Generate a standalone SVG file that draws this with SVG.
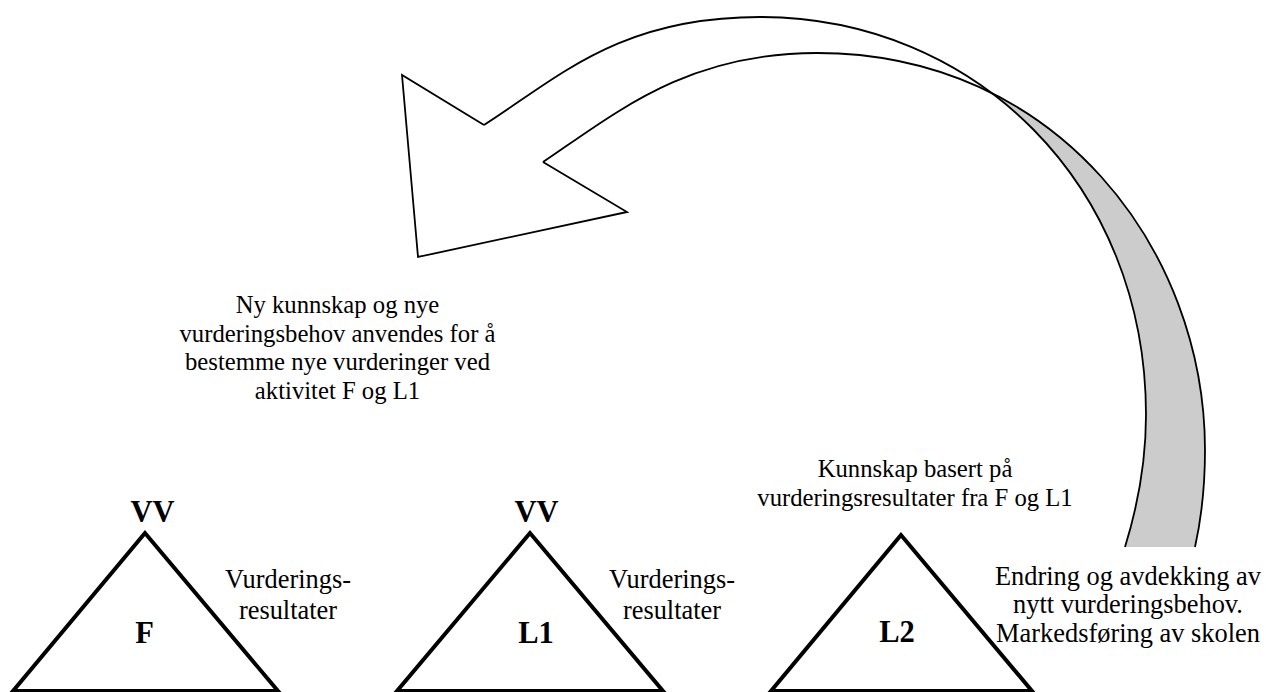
<svg xmlns="http://www.w3.org/2000/svg" width="1266" height="692" viewBox="0 0 1266 692">
  <style>
    .tri { fill: none; stroke: #000; stroke-width: 4; stroke-linejoin: miter; }
    .lbl { font-family: "Liberation Serif", "Times New Roman", serif; font-weight: bold; font-size: 30.5px; fill: #000; text-anchor: middle; }
    .note { font-family: "Liberation Serif", "Times New Roman", serif; font-size: 24.7px; fill: #000; text-anchor: middle; }
    .note-l { font-family: "Liberation Serif", "Times New Roman", serif; font-size: 26.4px; fill: #000; text-anchor: middle; }
    .edge { fill: none; stroke: #000; stroke-width: 1.8; stroke-linejoin: miter; }
  </style>
  <defs>
    <clipPath id="backside">
      <rect x="990" y="0" width="276" height="692"/>
    </clipPath>
  </defs>
  <rect width="1266" height="692" fill="#fff"/>

  <!-- curved feedback arrow from L2 back to F and L1 -->
  <g id="connectors">
    <path clip-path="url(#backside)" fill="#cccccc" stroke="none"
          d="M484,125 C559.6,76.4 620,17 760,17 C975,17 1146,185 1146,415 C1146,460 1138,505 1125,547 L1195,547 C1201,520 1205,485 1205,450 C1205,250 1057,53 817,53 C687,53 617.7,111.6 543,162 Z"/>
    <path class="edge" d="M484,125 C559.6,76.4 620,17 760,17 C975,17 1146,185 1146,415 C1146,460 1138,505 1125,547"/>
    <path class="edge" d="M543,162 C617.7,111.6 687,53 817,53 C1057,53 1205,250 1205,450 C1205,485 1201,520 1195,547"/>
    <path class="edge" fill="#fff" d="M484,125 L402,75 L418,257 L627,212 L543,162"/>
  </g>

  <g id="node-f">
    <polygon class="tri" points="145,533 13,691 278,691"/>
    <text class="lbl" x="152.5" y="521.5">VV</text>
    <text class="lbl" x="144.5" y="643">F</text>
  </g>

  <g id="node-l1">
    <polygon class="tri" points="530,533 397,691 663,691"/>
    <text class="lbl" x="536.5" y="521.5">VV</text>
    <text class="lbl" x="536" y="643">L1</text>
  </g>

  <g id="node-l2">
    <polygon class="tri" points="901,535 771,691 1032,691"/>
    <text class="lbl" x="897" y="642">L2</text>
  </g>

  <g id="note-f-results">
    <text class="note-l" x="288" y="588">Vurderings-</text>
    <text class="note-l" x="288" y="618.5">resultater</text>
  </g>

  <g id="note-l1-results">
    <text class="note-l" x="672" y="588">Vurderings-</text>
    <text class="note-l" x="672" y="618.5">resultater</text>
  </g>

  <g id="note-new-knowledge">
    <text class="note" x="337.5" y="313">Ny kunnskap og nye</text>
    <text class="note" x="337.5" y="341.5">vurderingsbehov anvendes for å</text>
    <text class="note" x="337.5" y="370">bestemme nye vurderinger ved</text>
    <text class="note" x="337.5" y="398.5">aktivitet F og L1</text>
  </g>

  <g id="note-knowledge">
    <text class="note" x="915" y="477">Kunnskap basert på</text>
    <text class="note" x="915" y="506">vurderingsresultater fra F og L1</text>
  </g>

  <g id="note-change">
    <text class="note-l" x="1128" y="584.5">Endring og avdekking av</text>
    <text class="note-l" x="1128" y="613">nytt vurderingsbehov.</text>
    <text class="note-l" x="1128" y="641.5">Markedsføring av skolen</text>
  </g>
</svg>
